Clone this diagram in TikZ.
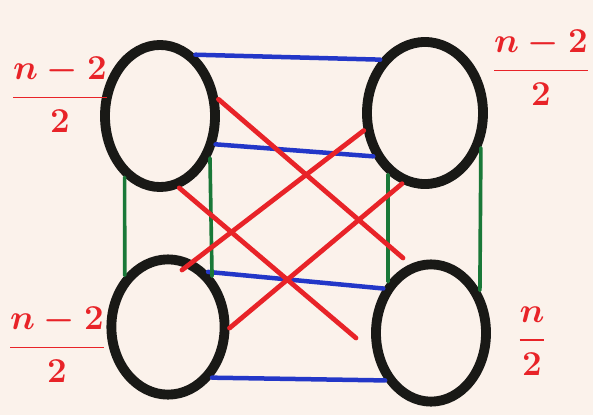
\documentclass[tikz,border=0pt]{standalone}
\usepackage{amsmath}
\usetikzlibrary{shapes.geometric}

\definecolor{paper}{RGB}{251,242,235}
\definecolor{penblack}{RGB}{25,25,22}
\definecolor{penblue}{RGB}{35,55,200}
\definecolor{pengreen}{RGB}{25,120,55}
\definecolor{penred}{RGB}{232,35,40}

\begin{document}
\begin{tikzpicture}[x=0.025cm, y=-0.025cm,
    part/.style={draw=penblack, ellipse, line width=7pt, inner sep=0pt},
    blueline/.style={draw=penblue, line width=3.2pt, line cap=round},
    greenline/.style={draw=pengreen, line width=2.6pt, line cap=round},
    redline/.style={draw=penred, line width=3.4pt, line cap=round},
    sizelabel/.style={text=penred, inner sep=0pt, font=\fontsize{33}{36}\selectfont\boldmath}
]
    \fill[paper] (0,0) rectangle (593,415);
    \useasboundingbox (0,0) rectangle (593,415);

    % the four parts
    \node[part, minimum width=2.75cm, minimum height=3.55cm] (tl) at (160,116) {};
    \node[part, minimum width=2.9cm, minimum height=3.55cm] (tr) at (425,113) {};
    \node[part, minimum width=2.83cm, minimum height=3.38cm] (bl) at (168,327) {};
    \node[part, minimum width=2.75cm, minimum height=3.43cm] (br) at (431,333) {};

    % sizes
    \node[sizelabel] (ltop) at (60,95) {$\dfrac{n-2}{2}$};
    \node[sizelabel] (rtop) at (541,68) {$\dfrac{n-2}{2}$};
    \node[sizelabel] (lbot) at (57,345) {$\dfrac{n-2}{2}$};
    \node[sizelabel] (rbot) at (532,341) {$\dfrac{n}{2}$};

    % blue edges
    \draw[blueline] (tl.60) -- (tr.130);
    \draw[blueline] (tl.-27) -- (tr.-140);
    \draw[blueline] (bl.54) -- (br.137);
    \draw[blueline] (bl.-49) -- (br.-134);

    % green edges
    \draw[greenline] (tl.-120) -- (bl.130);
    \draw[greenline] (tl.-40) -- (bl.49);
    \draw[greenline] (tr.-121) -- (br.130);
    \draw[greenline] (tr.-32) -- (br.41);

    % red edges
    \coordinate (ra) at (403,258);
    \coordinate (rb) at (356,338);
    \coordinate (rc) at (182,270);
    \draw[redline] (tl.16) -- (ra);
    \draw[redline] (tl.-75) -- (rb);
    \draw[redline] (rc) -- (tr.196);
    \draw[redline] (bl.-1) -- (tr.-108);
\end{tikzpicture}
\end{document}
